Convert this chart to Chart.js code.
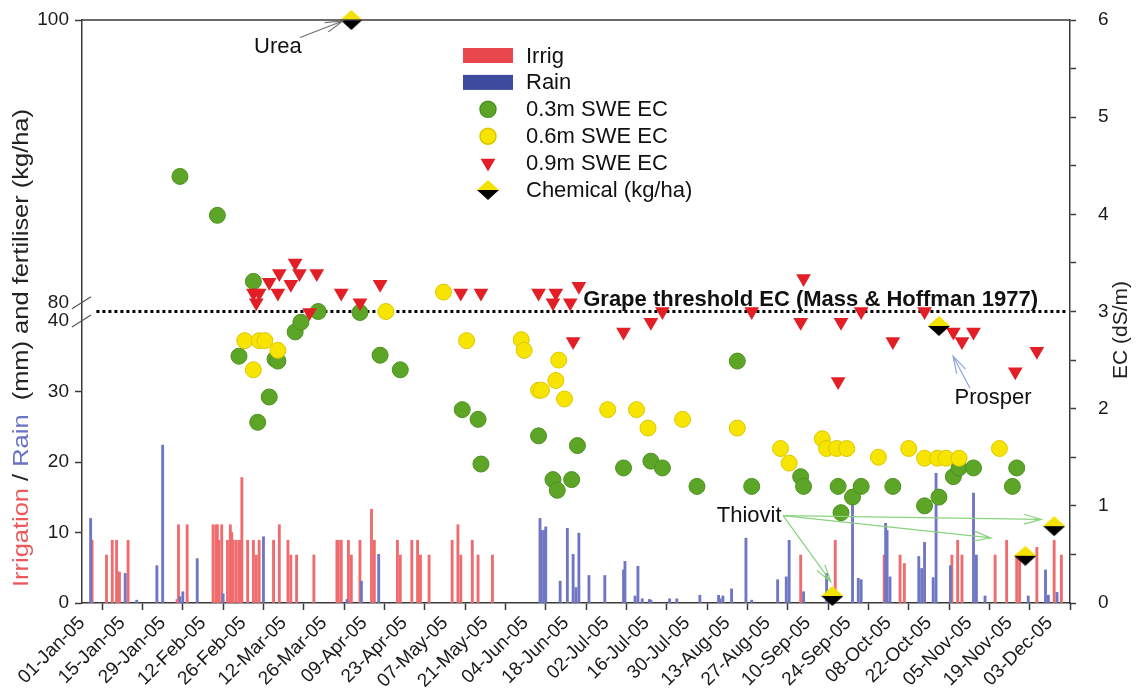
<!DOCTYPE html>
<html>
<head>
<meta charset="utf-8">
<script src="https://cdn.jsdelivr.net/npm/chart.js@4.4.0/dist/chart.umd.min.js"></script>
<style>
  html, body { margin: 0; padding: 0; background: #fff; }
</style>
</head>
<body>
<canvas id="ecChart" width="1136" height="700"></canvas>
<script>
// x values are days counted from 01-Jan-05 (day 0)
const irrigDays = [3.5, 8.5, 10.5, 12, 12.5, 13, 16, 33, 33.5, 36.5, 45.5, 46.5, 47, 47.5, 48.5, 50.5, 51.5, 52, 52.5, 53.5,
    54.5, 55, 55.5, 57.5, 59.5, 60.5, 61.5, 66.5, 68.5, 71.5, 72.5, 74.5, 80.5, 88.5, 89, 90, 92.5, 93.5, 96.5, 100.5,
    101.5, 109.5, 110.5, 114.5, 116.5, 117.5, 120.5, 128.5, 130.5, 131.5, 135.5, 137.5, 142.5, 249.5, 261.5,
    278.5, 284, 285.5, 302, 304, 305.5, 317, 321, 324.5, 325.5, 331.5, 337.5, 340];
const irrigMm = [8.9, 6.8, 8.9, 8.9, 4.4, 4.4, 8.9, 0.5, 11.1, 11.1, 11.1, 11.1, 11.1, 8.9, 11.1, 8.9, 11.1, 10.0, 8.9, 8.9,
    8.9, 8.9, 17.8, 8.9, 8.9, 6.8, 8.9, 8.9, 11.1, 8.9, 6.8, 6.8, 6.8, 8.9, 8.9, 8.9, 8.9, 6.8, 8.9, 13.3,
    8.9, 8.9, 6.8, 8.9, 8.9, 6.8, 6.8, 8.9, 11.1, 6.8, 8.9, 6.8, 6.8, 6.8, 8.9,
    6.8, 6.8, 5.6, 6.8, 8.9, 6.8, 6.8, 8.9, 6.8, 6.8, 7.9, 8.9, 6.8];

const rainDays = [3, 15, 19, 26, 28, 34, 35, 40, 49, 63, 92, 97, 103, 159, 159.5, 160.5, 161, 166, 168.5, 170.5,
    171.5, 172.5, 176, 181.5, 188, 188.5, 192, 193, 194.5, 197, 197.5, 204, 206.5, 214.5, 221, 221.5, 222.5, 225.5,
    230.5, 232.5, 241.5, 244.5, 245.5, 250.5, 258.5, 267.5, 269.5, 270.5, 279, 279.5, 280.5, 290.5, 291.5, 292.5,
    295.5, 296.5, 301.5, 309.5, 310.5, 313.5, 328.5, 334.5, 335.5, 338.5];
const rainMm = [12.0, 4.2, 0.4, 5.3, 22.4, 0.9, 1.6, 6.3, 1.3, 9.4, 0.5, 3.1, 6.9, 12.0, 10.3, 10.3, 10.8, 3.1, 10.6, 6.9,
    2.2, 9.9, 3.9, 3.9, 4.7, 5.9, 1.0, 5.2, 0.6, 0.5, 0.4, 0.6, 0.6, 1.1, 1.1, 0.6, 1.0, 2.0,
    9.2, 0.4, 3.3, 3.7, 8.9, 1.6, 4.2, 14.6, 3.5, 3.3, 11.3, 10.3, 3.7, 6.6, 4.9, 8.6,
    3.6, 18.4, 5.3, 15.6, 6.8, 1.0, 1.0, 4.7, 1.1, 1.5];

const swe03Days = [34, 47, 54.5, 59.5, 61, 65, 67, 68, 74, 76, 82, 96.5, 103.5, 110.5, 132, 137.5, 138.5, 158.5, 163.5, 165,
    170, 172, 188, 197.5, 201.5, 213.5, 227.5, 232.5, 249.5, 250.5, 262.5, 263.5, 267.5, 270.5, 281.5, 292.5, 297.5,
    302.5, 304.5, 309.5, 323, 324.5];
const swe03EC = [4.39, 3.99, 2.54, 3.31, 1.86, 2.12, 2.51, 2.49, 2.79, 2.89, 3.00, 2.99, 2.55, 2.40, 1.99, 1.89, 1.43, 1.72, 1.27, 1.16,
    1.27, 1.62, 1.39, 1.46, 1.39, 1.20, 2.49, 1.20, 1.30, 1.20, 1.20, 0.93, 1.09, 1.20, 1.20, 1.00, 1.09,
    1.30, 1.39, 1.39, 1.20, 1.39];

const swe06Days = [56.5, 59.5, 61.5, 63.5, 68, 105.5, 125.5, 133.5, 152.5, 153.5, 158.5, 159.5, 164.5, 165.5, 167.5,
    182.5, 192.5, 196.5, 208.5, 227.5, 242.5, 245.5, 257, 258.5, 262, 265.5, 276.5, 287, 292.5, 297, 300, 304.5, 318.5];
const swe06EC = [2.70, 2.40, 2.70, 2.70, 2.60, 3.00, 3.20, 2.70, 2.71, 2.60, 2.19, 2.19, 2.29, 2.50, 2.10,
    1.99, 1.99, 1.80, 1.89, 1.80, 1.59, 1.44, 1.69, 1.59, 1.59, 1.59, 1.50, 1.59, 1.49, 1.49, 1.49, 1.49, 1.59];

const swe09Days = [59.5, 60.5, 61.5, 65, 68, 68.5, 72.5, 74, 75.5, 79, 81.5, 90, 96.5, 103.5, 131.5, 138.5, 158.5, 163.5,
    164.5, 169.5, 170.5, 172.5, 188, 197.5, 201.5, 232.5, 249.5, 250.5, 262.5, 263.5, 270.5, 281.5, 292.5, 302.5,
    305.5, 309.5, 324, 331.5];
const swe09EC = [3.19, 3.09, 3.19, 3.30, 3.19, 3.39, 3.28, 3.50, 3.39, 2.99, 3.39, 3.19, 3.09, 3.28, 3.19, 3.19, 3.19, 3.09,
    3.19, 3.09, 2.69, 3.26, 2.79, 2.89, 3.00, 3.00, 2.89, 3.34, 2.28, 2.89, 3.00, 2.69, 3.00, 2.79,
    2.69, 2.79, 2.38, 2.59];

const chemNames = ["Urea", "Thiovit", "Prosper", "Thiovit", "Thiovit"];
const chemDays = [93.5, 260.5, 297.5, 327.5, 337.5];
const chemKg = [100, 1.0, 39.3, 6.7, 10.9];

const thresholdEC = 3.0;
const thresholdDays = [5, 342];

const xTickDays = [0, 14, 28, 42, 56, 70, 84, 98, 112, 126, 140, 154, 168, 182, 196, 210, 224, 238, 252, 266, 280, 294, 308, 322, 336];
const leftTickLabels = [0, 10, 20, 30, 40, 80, 100];
const ecTickLabels = [0, 1, 2, 3, 4, 5, 6];
const ecMinorTicks = [0.5, 1.5, 2.5, 3.5, 4.5, 5.5];

const FONT = "'Liberation Sans', Arial, Helvetica, sans-serif";
Chart.defaults.font.family = FONT;
Chart.defaults.color = "#1a1a1a";

const AXIS = "#3a3a3a";
const MONTHS = ["Jan", "Feb", "Mar", "Apr", "May", "Jun", "Jul", "Aug", "Sep", "Oct", "Nov", "Dec"];

// left axis is broken: 0-40 mm below the break, 80-100 kg/ha above it
const LEFT_MAX = 82.7;
const BREAK_GAP = 2.6;
const UPPER_K = (LEFT_MAX - 40 - BREAK_GAP) / 20;
function toLeft(v) {
    return v <= 40 ? v : 40 + BREAK_GAP + (v - 80) * UPPER_K;
}

function dayLabel(day) {
    const d = new Date(Date.UTC(2005, 0, 1 + day));
    return String(d.getUTCDate()).padStart(2, "0") + "-" + MONTHS[d.getUTCMonth()] + "-05";
}

function pairs(xs, ys, f) {
    return xs.map((x, i) => ({ x: x, y: f ? f(ys[i]) : ys[i] }));
}

function makeDiamond(w, h) {
    const c = document.createElement("canvas");
    c.width = w;
    c.height = h;
    const g = c.getContext("2d");
    g.fillStyle = "#f3e200";
    g.beginPath();
    g.moveTo(w / 2, 0);
    g.lineTo(w, h / 2);
    g.lineTo(0, h / 2);
    g.closePath();
    g.fill();
    g.fillStyle = "#000";
    g.beginPath();
    g.moveTo(0, h / 2);
    g.lineTo(w, h / 2);
    g.lineTo(w / 2, h);
    g.closePath();
    g.fill();
    return c;
}
const diamond = makeDiamond(22, 20);

function drawArrow(ctx, x1, y1, x2, y2, color) {
    const ang = Math.atan2(y2 - y1, x2 - x1);
    const len = 18, spread = 0.28;
    ctx.save();
    ctx.strokeStyle = color;
    ctx.lineWidth = 1.2;
    ctx.beginPath();
    ctx.moveTo(x1, y1);
    ctx.lineTo(x2, y2);
    ctx.moveTo(x2 - len * Math.cos(ang - spread), y2 - len * Math.sin(ang - spread));
    ctx.lineTo(x2, y2);
    ctx.lineTo(x2 - len * Math.cos(ang + spread), y2 - len * Math.sin(ang + spread));
    ctx.stroke();
    ctx.restore();
}

// labels and arrows, placed in (day, EC) coordinates
const notes = [
    { text: "Urea", day: 68, ec: 5.72 },
    { text: "Thiovit", day: 231.6, ec: 0.9 },
    { text: "Prosper", day: 316.3, ec: 2.11 },
];
const arrows = [
    { from: [75.7, 5.82], to: [90.5, 5.99], color: "#707070" },
    { from: [243.4, 0.9], to: [260, 0.22], color: "#8ad27e" },
    { from: [243.4, 0.9], to: [315.6, 0.67], color: "#8ad27e" },
    { from: [243.4, 0.9], to: [333, 0.86], color: "#8ad27e" },
    { from: [308.3, 2.21], to: [302.4, 2.54], color: "#8ea6dc" },
];

const decor = {
    id: "decor",
    afterDatasetsDraw(chart) {
        const { ctx, chartArea: a } = chart;
        const x = chart.scales.x, ec = chart.scales.y2;

        // top frame line
        ctx.save();
        ctx.strokeStyle = AXIS;
        ctx.lineWidth = 1.5;
        ctx.beginPath();
        ctx.moveTo(a.left, a.top);
        ctx.lineTo(a.right, a.top);
        ctx.stroke();

        // threshold caption
        ctx.fillStyle = "#111";
        ctx.font = "bold 22px " + FONT;
        ctx.textBaseline = "alphabetic";
        ctx.textAlign = "left";
        ctx.fillText("Grape threshold EC (Mass & Hoffman 1977)", x.getPixelForValue(174), ec.getPixelForValue(3.06));

        // annotations
        ctx.font = "22px " + FONT;
        ctx.textAlign = "center";
        ctx.textBaseline = "middle";
        notes.forEach(n => ctx.fillText(n.text, x.getPixelForValue(n.day), ec.getPixelForValue(n.ec)));
        arrows.forEach(r => drawArrow(ctx,
            x.getPixelForValue(r.from[0]), ec.getPixelForValue(r.from[1]),
            x.getPixelForValue(r.to[0]), ec.getPixelForValue(r.to[1]), r.color));

        // legend
        const lx = 463, ly = 55.5, step = 26.9;
        ctx.textAlign = "left";
        chart.data.datasets.filter(d => d.label).forEach((d, i) => {
            const yy = ly + i * step;
            if (d.type === "bar") {
                ctx.fillStyle = d.legendColor;
                ctx.fillRect(lx, yy - 7.5, 50, 15);
            } else {
                ctx.fillStyle = d.backgroundColor;
                ctx.strokeStyle = d.borderColor || d.backgroundColor;
                Chart.helpers.drawPoint(ctx, {
                    pointStyle: d.pointStyle, radius: d.pointRadius,
                    rotation: d.rotation || 0, borderWidth: d.borderWidth || 0
                }, lx + 25, yy);
            }
            ctx.fillStyle = "#111";
            ctx.fillText(d.label, lx + 63, yy + 1);
        });
        ctx.restore();
    },
    afterDraw(chart) {
        const { ctx, chartArea: a } = chart;
        const y = chart.scales.y;
        ctx.save();

        // axis break marks
        ctx.strokeStyle = "#555";
        ctx.lineWidth = 1.2;
        [80, 40].forEach(v => {
            const yy = y.getPixelForValue(toLeft(v));
            ctx.beginPath();
            ctx.moveTo(a.left - 10, yy + 6);
            ctx.lineTo(a.left + 9, yy - 6);
            ctx.stroke();
        });

        // left title, several colours
        const parts = [["Irrigation", "#ea5a5c"], [" / ", "#222"], ["Rain", "#6b73c4"], ["  (mm) and fertiliser (kg/ha)", "#222"]];
        ctx.font = "22px " + FONT;
        const total = parts.reduce((s, p) => s + ctx.measureText(p[0]).width, 0);
        const span = 478;
        ctx.translate(22, 348);
        ctx.rotate(-Math.PI / 2);
        ctx.scale(span / total, 1);
        ctx.textBaseline = "middle";
        ctx.textAlign = "left";
        let pos = -total / 2;
        parts.forEach(([t, c]) => {
            ctx.fillStyle = c;
            ctx.fillText(t, pos, 0);
            pos += ctx.measureText(t).width;
        });
        ctx.restore();

        // right title
        ctx.save();
        ctx.font = "21px " + FONT;
        ctx.fillStyle = "#222";
        ctx.translate(1121, 330);
        ctx.rotate(-Math.PI / 2);
        ctx.textAlign = "center";
        ctx.textBaseline = "middle";
        ctx.fillText("EC (dS/m)", 0, 0);
        ctx.restore();
    }
};

function noVerticalPadding(s) {
    s.paddingTop = 0;
    s.paddingBottom = 0;
}

const chart = new Chart(document.getElementById("ecChart"), {
    type: "scatter",
    data: {
        datasets: [
            {
                type: "bar", label: "Irrig", data: pairs(irrigDays, irrigMm), yAxisID: "y",
                backgroundColor: "#ef6b6e", legendColor: "#e8484d", barThickness: 2.2, grouped: false, order: 10
            },
            {
                type: "bar", label: "Rain", data: pairs(rainDays, rainMm), yAxisID: "y",
                backgroundColor: "#6f76c4", legendColor: "#3e4a9e", barThickness: 2.2, grouped: false, order: 9
            },
            {
                label: "0.3m SWE EC", data: pairs(swe03Days, swe03EC), yAxisID: "y2",
                pointStyle: "circle", pointRadius: 8, backgroundColor: "#5ca527", borderColor: "#4d9120", borderWidth: 1, order: 6
            },
            {
                label: "0.6m SWE EC", data: pairs(swe06Days, swe06EC), yAxisID: "y2",
                pointStyle: "circle", pointRadius: 8, backgroundColor: "#f7e400", borderColor: "#dcc800", borderWidth: 1, order: 5
            },
            {
                label: "0.9m SWE EC", data: pairs(swe09Days, swe09EC), yAxisID: "y2",
                pointStyle: "triangle", rotation: 180, pointRadius: 8.5, backgroundColor: "#e21f26", borderWidth: 0, order: 4
            },
            {
                label: "Chemical (kg/ha)", data: pairs(chemDays, chemKg, toLeft), yAxisID: "y",
                pointStyle: diamond, pointRadius: 10, backgroundColor: "#f3e200", borderWidth: 0, order: 2, clip: false
            },
            {
                type: "line", data: thresholdDays.map(d => ({ x: d, y: thresholdEC })), yAxisID: "y2",
                borderColor: "#000", borderWidth: 3.2, borderDash: [3, 3], pointRadius: 0, order: 7
            },
        ]
    },
    options: {
        responsive: false,
        animation: false,
        events: [],
        layout: { padding: { top: 20, left: 0, right: 0, bottom: 0 } },
        plugins: { legend: { display: false }, tooltip: { enabled: false } },
        scales: {
            x: {
                type: "linear", min: 0, max: 343, offset: false,
                afterBuildTicks: s => { s.ticks = xTickDays.map(v => ({ value: v })); },
                afterFit: s => { s.height = 97; },
                ticks: { autoSkip: false, minRotation: 45, maxRotation: 45, padding: 2, font: { size: 19 }, callback: v => dayLabel(v) },
                grid: { drawOnChartArea: false, tickLength: 7, tickWidth: 1.5, tickColor: AXIS },
                border: { color: AXIS, width: 1.5 }
            },
            y: {
                position: "left", min: 0, max: LEFT_MAX,
                afterBuildTicks: s => { s.ticks = leftTickLabels.map(v => ({ value: toLeft(v) })); },
                afterFit: s => { s.width = 82; noVerticalPadding(s); },
                ticks: { autoSkip: false, padding: 6, font: { size: 19 }, callback: (v, i) => leftTickLabels[i] },
                grid: {
                    drawOnChartArea: false, tickLength: 7, tickWidth: 1.5,
                    tickColor: c => (c.index === 4 || c.index === 5) ? "rgba(0,0,0,0)" : AXIS
                },
                border: { color: AXIS, width: 1.5 }
            },
            y2: {
                position: "right", min: 0, max: 6,
                afterBuildTicks: s => { s.ticks = ecTickLabels.concat(ecMinorTicks).sort((a, b) => a - b).map(v => ({ value: v })); },
                afterFit: s => { s.width = 66; noVerticalPadding(s); },
                ticks: { autoSkip: false, padding: 22, font: { size: 19 }, callback: v => Number.isInteger(v) ? v : "" },
                grid: { drawOnChartArea: false, tickLength: 6, tickWidth: 1.5, tickColor: AXIS },
                border: { color: AXIS, width: 1.5 }
            }
        }
    },
    plugins: [decor]
});
</script>
</body>
</html>
